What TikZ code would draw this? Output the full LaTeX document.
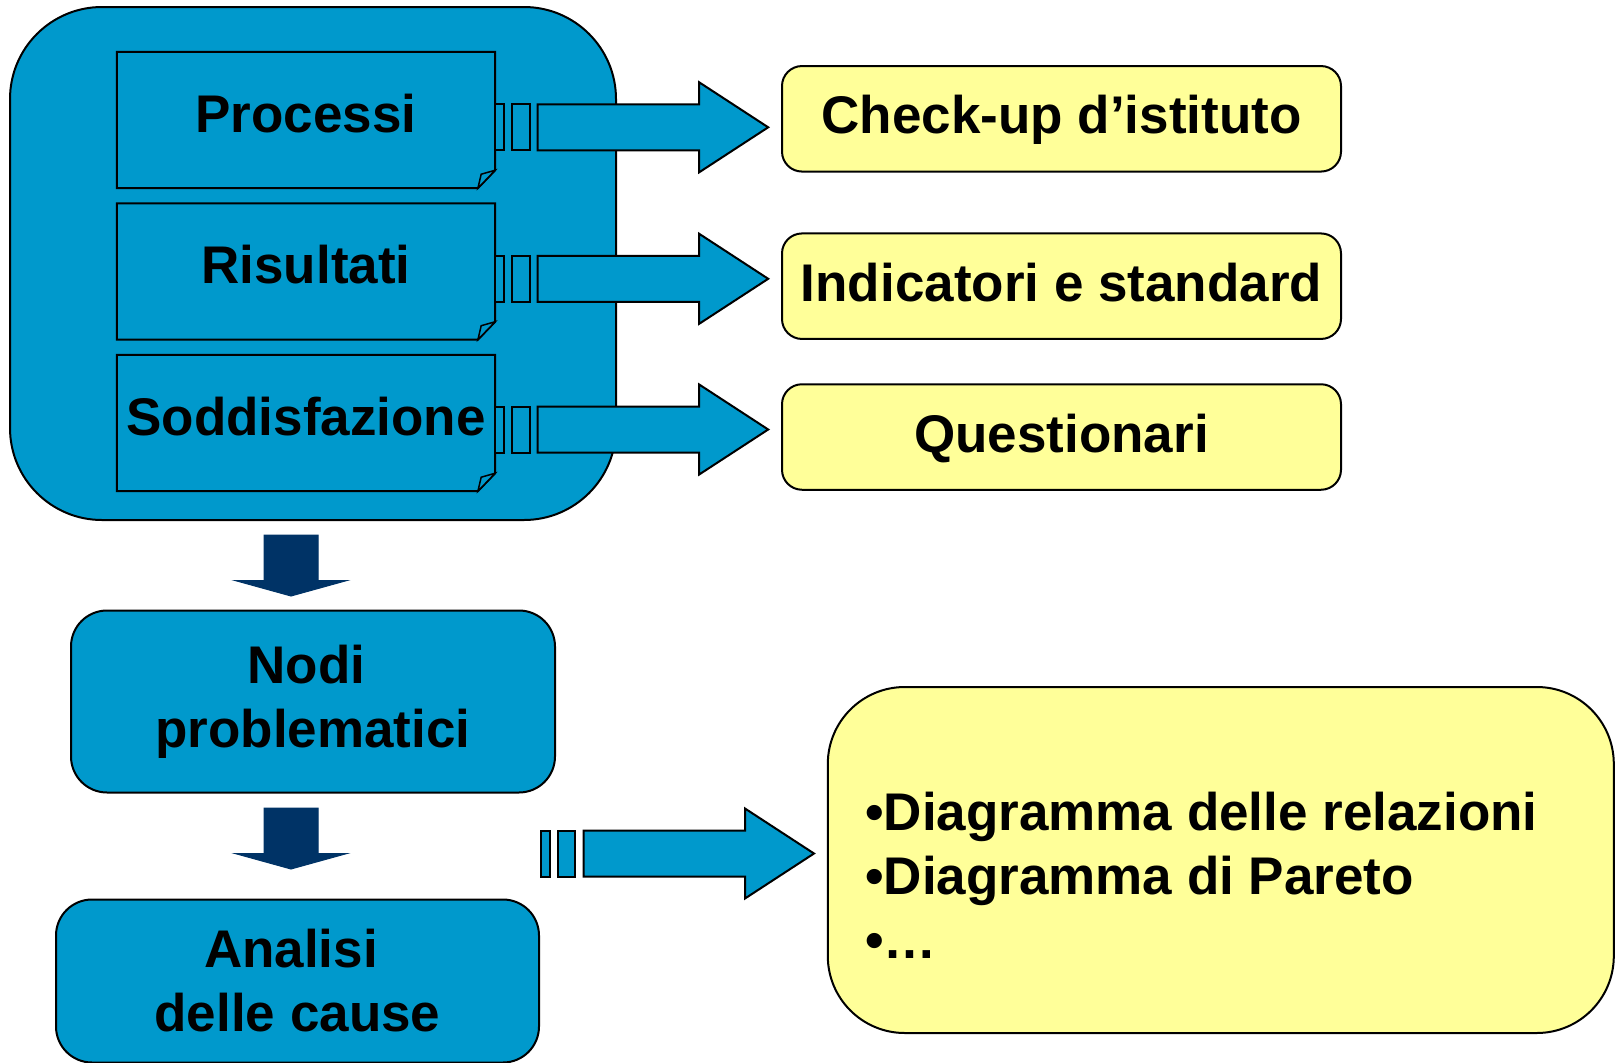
\documentclass[tikz,border=0pt]{standalone}
\usepackage{fontspec}
\setmainfont{Liberation Sans}
\usetikzlibrary{calc,backgrounds}
\definecolor{boxblue}{HTML}{0099CC}
\definecolor{noteyellow}{HTML}{FFFF99}
\definecolor{darknavy}{HTML}{003366}
\tikzset{
  stripedarrow/.pic={
    \draw[line width=2pt, fill=boxblue] (0,-23) rectangle (8.5,23);
    \draw[line width=2pt, fill=boxblue] (16.7,-23) rectangle (34.3,23);
    \draw[line width=2pt, fill=boxblue, line join=miter]
      (42.5,-23) -- (204,-23) -- (204,-45) -- (273,0) -- (204,45) -- (204,23) -- (42.5,23) -- cycle;
  },
  downarrow/.pic={
    \draw[fill=darknavy, draw=darknavy, line width=1pt, line join=miter]
      (-27,0) -- (27,0) -- (27,45.5) -- (56,45.5) -- (0,61) -- (-56,45.5) -- (-27,45.5) -- cycle;
  }
}
\begin{document}
\begin{tikzpicture}[x=1pt,y=-1pt,
  every node/.style={font=\fontsize{53}{64}\selectfont\bfseries, inner sep=0pt, text=black},
  bluebox/.style={draw=black, line width=2pt, fill=boxblue, rounded corners=#1},
  notebox/.style={minimum width=378pt, minimum height=136pt, text height=40pt, text depth=16pt},
  ybox/.style={draw=black, line width=2pt, fill=noteyellow, rounded corners=20pt,
    minimum width=559pt, minimum height=105.5pt, text height=40pt, text depth=10pt},
  noteline/.style={draw=black, line width=2pt, fill=boxblue, line join=miter}
]
\useasboundingbox (0,0) rectangle (1620,1063);

% note texts (shapes drawn on the background layer)
\node[notebox] (p1) at (306,120) {Processi};
\node[notebox] (p2) at (306,271.5) {Risultati};
\node[notebox] (p3) at (306,423) {Soddisfazione};

\begin{scope}[on background layer]
  \node[bluebox=92pt, minimum width=606pt, minimum height=513pt] (sources) at (313,263.5) {};
  \foreach \n in {p1,p2,p3}{
    \path[noteline] (\n.north west) -- (\n.north east) -- ([yshift=18pt]\n.south east)
      -- ([xshift=-17.3pt]\n.south east) -- (\n.south west) -- cycle;
    \path[noteline, line width=1.5pt] ([xshift=-17.3pt]\n.south east) -- ([xshift=-14pt,yshift=14pt]\n.south east)
      -- ([yshift=18pt]\n.south east) -- cycle;
  }
\end{scope}

% target boxes
\node[ybox] (t1) at (1061.5,118.8) {Check-up d’istituto};
\node[ybox] (t2) at (1061.5,286.2) {Indicatori e standard};
\node[ybox] (t3) at (1061.5,437) {Questionari};

% striped arrows
\path ($(p1.east)+(0,7.3)$) pic {stripedarrow};
\path ($(p2.east)+(0,7.3)$) pic {stripedarrow};
\path ($(p3.east)+(0,6.5)$) pic {stripedarrow};

% lower flow
\node[bluebox=36pt, minimum width=484pt, minimum height=182pt, align=center] (n1) at (313,701.5) {\raisebox{0pt}{Nodi}\hspace*{13pt}\\problematici};
\node[bluebox=36pt, minimum width=483pt, minimum height=163pt, align=center] (n2) at (297.5,981) {Analisi\hspace*{13pt}\\delle cause};

\path ($(sources.south)+(-22,14)$) pic {downarrow};
\path ($(n1.south)+(-22,14.5)$) pic {downarrow};

% tools box
\node[draw=black, line width=2pt, fill=noteyellow, rounded corners=77pt,
  minimum width=786pt, minimum height=346pt] (tools) at (1220.8,860) {};
\node[anchor=north west, align=left] (toolstext) at (865,792)
  {•Diagramma delle relazioni\\•Diagramma di Pareto\\•…};

\path ($(n2.north east)+(1,-45)$) pic {stripedarrow};
\end{tikzpicture}
\end{document}
